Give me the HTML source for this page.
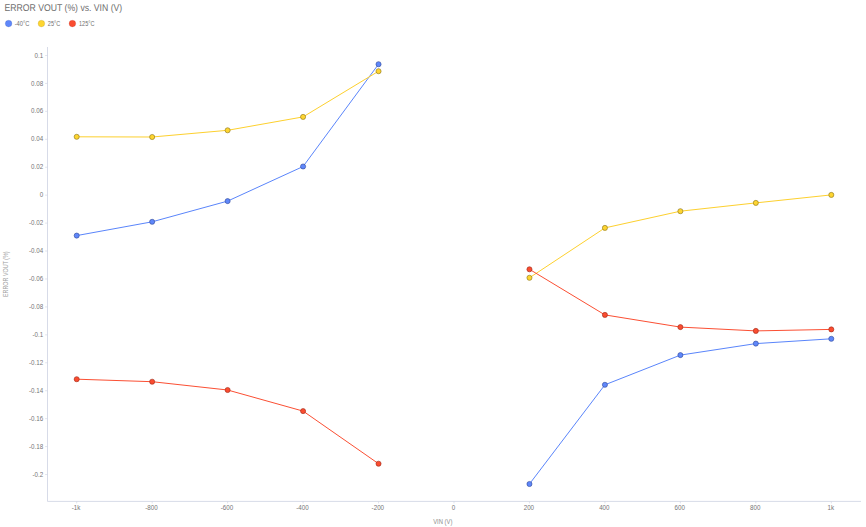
<!DOCTYPE html>
<html><head><meta charset="utf-8"><title>ERROR VOUT (%) vs. VIN (V)</title>
<style>
html,body{margin:0;padding:0;background:#fff;}
body{width:866px;height:527px;overflow:hidden;font-family:"Liberation Sans",sans-serif;}
svg{display:block;}
text{font-family:"Liberation Sans",sans-serif;}
</style></head><body>
<svg width="866" height="527" viewBox="0 0 866 527">
<rect x="0" y="0" width="866" height="527" fill="#ffffff"/>

<text transform="translate(4.6 11.2) rotate(0.03)" font-size="9.8" fill="#6e6e6e" textLength="117.6" lengthAdjust="spacingAndGlyphs">ERROR VOUT (%) vs. VIN (V)</text>
<circle cx="8.6" cy="23.6" r="3.3" fill="#5f87fa" stroke="#2f4796" stroke-opacity="0.45" stroke-width="0.4"/>
<text x="14.7" y="25.9" font-size="7" fill="#707070" textLength="14.8" lengthAdjust="spacingAndGlyphs">-40°C</text>
<circle cx="41.4" cy="23.6" r="3.3" fill="#fed530" stroke="#86701a" stroke-opacity="0.45" stroke-width="0.4"/>
<text x="47.8" y="25.9" font-size="7" fill="#707070" textLength="12.4" lengthAdjust="spacingAndGlyphs">25°C</text>
<circle cx="72.4" cy="23.6" r="3.3" fill="#fa4c30" stroke="#9c2a1a" stroke-opacity="0.45" stroke-width="0.4"/>
<text x="79.0" y="25.9" font-size="7" fill="#707070" textLength="15.5" lengthAdjust="spacingAndGlyphs">125°C</text>
<path d="M47.5 47.0 V501.4 H861.0" fill="none" stroke="#d0d4e4" stroke-width="0.85"/>
<path d="M45.1 55.50 H47.5" stroke="#cfd3e3" stroke-width="0.6"/>
<text transform="translate(43.1 57.60) scale(0.865 1)" font-size="7.2" fill="#757575" text-anchor="end">0.1</text>
<path d="M45.1 83.44 H47.5" stroke="#cfd3e3" stroke-width="0.6"/>
<text transform="translate(43.1 85.53) scale(0.865 1)" font-size="7.2" fill="#757575" text-anchor="end">0.08</text>
<path d="M45.1 111.37 H47.5" stroke="#cfd3e3" stroke-width="0.6"/>
<text transform="translate(43.1 113.47) scale(0.865 1)" font-size="7.2" fill="#757575" text-anchor="end">0.06</text>
<path d="M45.1 139.31 H47.5" stroke="#cfd3e3" stroke-width="0.6"/>
<text transform="translate(43.1 141.41) scale(0.865 1)" font-size="7.2" fill="#757575" text-anchor="end">0.04</text>
<path d="M45.1 167.24 H47.5" stroke="#cfd3e3" stroke-width="0.6"/>
<text transform="translate(43.1 169.34) scale(0.865 1)" font-size="7.2" fill="#757575" text-anchor="end">0.02</text>
<path d="M45.1 195.17 H47.5" stroke="#cfd3e3" stroke-width="0.6"/>
<text transform="translate(43.1 197.27) scale(0.865 1)" font-size="7.2" fill="#757575" text-anchor="end">0</text>
<path d="M45.1 223.11 H47.5" stroke="#cfd3e3" stroke-width="0.6"/>
<text transform="translate(43.1 225.21) scale(0.865 1)" font-size="7.2" fill="#757575" text-anchor="end">-0.02</text>
<path d="M45.1 251.04 H47.5" stroke="#cfd3e3" stroke-width="0.6"/>
<text transform="translate(43.1 253.14) scale(0.865 1)" font-size="7.2" fill="#757575" text-anchor="end">-0.04</text>
<path d="M45.1 278.98 H47.5" stroke="#cfd3e3" stroke-width="0.6"/>
<text transform="translate(43.1 281.08) scale(0.865 1)" font-size="7.2" fill="#757575" text-anchor="end">-0.06</text>
<path d="M45.1 306.91 H47.5" stroke="#cfd3e3" stroke-width="0.6"/>
<text transform="translate(43.1 309.01) scale(0.865 1)" font-size="7.2" fill="#757575" text-anchor="end">-0.08</text>
<path d="M45.1 334.85 H47.5" stroke="#cfd3e3" stroke-width="0.6"/>
<text transform="translate(43.1 336.95) scale(0.865 1)" font-size="7.2" fill="#757575" text-anchor="end">-0.1</text>
<path d="M45.1 362.78 H47.5" stroke="#cfd3e3" stroke-width="0.6"/>
<text transform="translate(43.1 364.88) scale(0.865 1)" font-size="7.2" fill="#757575" text-anchor="end">-0.12</text>
<path d="M45.1 390.72 H47.5" stroke="#cfd3e3" stroke-width="0.6"/>
<text transform="translate(43.1 392.82) scale(0.865 1)" font-size="7.2" fill="#757575" text-anchor="end">-0.14</text>
<path d="M45.1 418.65 H47.5" stroke="#cfd3e3" stroke-width="0.6"/>
<text transform="translate(43.1 420.75) scale(0.865 1)" font-size="7.2" fill="#757575" text-anchor="end">-0.16</text>
<path d="M45.1 446.59 H47.5" stroke="#cfd3e3" stroke-width="0.6"/>
<text transform="translate(43.1 448.69) scale(0.865 1)" font-size="7.2" fill="#757575" text-anchor="end">-0.18</text>
<path d="M45.1 474.52 H47.5" stroke="#cfd3e3" stroke-width="0.6"/>
<text transform="translate(43.1 476.62) scale(0.865 1)" font-size="7.2" fill="#757575" text-anchor="end">-0.2</text>
<path d="M76.70 501.4 V503.4" stroke="#cfd3e3" stroke-width="0.6"/>
<text transform="translate(76.00 510.0) scale(0.865 1)" font-size="7.2" fill="#757575" text-anchor="middle">-1k</text>
<path d="M152.16 501.4 V503.4" stroke="#cfd3e3" stroke-width="0.6"/>
<text transform="translate(151.46 510.0) scale(0.865 1)" font-size="7.2" fill="#757575" text-anchor="middle">-800</text>
<path d="M227.62 501.4 V503.4" stroke="#cfd3e3" stroke-width="0.6"/>
<text transform="translate(226.92 510.0) scale(0.865 1)" font-size="7.2" fill="#757575" text-anchor="middle">-600</text>
<path d="M303.08 501.4 V503.4" stroke="#cfd3e3" stroke-width="0.6"/>
<text transform="translate(302.38 510.0) scale(0.865 1)" font-size="7.2" fill="#757575" text-anchor="middle">-400</text>
<path d="M378.54 501.4 V503.4" stroke="#cfd3e3" stroke-width="0.6"/>
<text transform="translate(377.84 510.0) scale(0.865 1)" font-size="7.2" fill="#757575" text-anchor="middle">-200</text>
<path d="M454.00 501.4 V503.4" stroke="#cfd3e3" stroke-width="0.6"/>
<text transform="translate(453.40 510.0) scale(0.865 1)" font-size="7.2" fill="#757575" text-anchor="middle">0</text>
<path d="M529.46 501.4 V503.4" stroke="#cfd3e3" stroke-width="0.6"/>
<text transform="translate(528.86 510.0) scale(0.865 1)" font-size="7.2" fill="#757575" text-anchor="middle">200</text>
<path d="M604.92 501.4 V503.4" stroke="#cfd3e3" stroke-width="0.6"/>
<text transform="translate(604.32 510.0) scale(0.865 1)" font-size="7.2" fill="#757575" text-anchor="middle">400</text>
<path d="M680.38 501.4 V503.4" stroke="#cfd3e3" stroke-width="0.6"/>
<text transform="translate(679.78 510.0) scale(0.865 1)" font-size="7.2" fill="#757575" text-anchor="middle">600</text>
<path d="M755.84 501.4 V503.4" stroke="#cfd3e3" stroke-width="0.6"/>
<text transform="translate(755.24 510.0) scale(0.865 1)" font-size="7.2" fill="#757575" text-anchor="middle">800</text>
<path d="M831.30 501.4 V503.4" stroke="#cfd3e3" stroke-width="0.6"/>
<text transform="translate(830.70 510.0) scale(0.865 1)" font-size="7.2" fill="#757575" text-anchor="middle">1k</text>
<text x="433.2" y="523.8" font-size="7.2" fill="#8c8c8c" textLength="19.2" lengthAdjust="spacingAndGlyphs">VIN (V)</text>
<text transform="translate(8.2 297.0) rotate(-90)" font-size="7.2" fill="#a0a0a0" textLength="45.6" lengthAdjust="spacingAndGlyphs">ERROR VOUT (%)</text>
<path d="M76.70 235.60 L152.16 221.80 L227.62 201.10 L303.08 166.50 L378.54 64.20" fill="none" stroke="#5a85fb" stroke-width="1.0" stroke-linejoin="round" stroke-linecap="round"/>
<path d="M529.46 484.00 L604.92 384.80 L680.38 355.10 L755.84 343.60 L831.30 338.80" fill="none" stroke="#5a85fb" stroke-width="1.0" stroke-linejoin="round" stroke-linecap="round"/>
<circle cx="76.70" cy="235.60" r="2.55" fill="#5f87fa" stroke="#2f4796" stroke-width="0.6"/>
<circle cx="152.16" cy="221.80" r="2.55" fill="#5f87fa" stroke="#2f4796" stroke-width="0.6"/>
<circle cx="227.62" cy="201.10" r="2.55" fill="#5f87fa" stroke="#2f4796" stroke-width="0.6"/>
<circle cx="303.08" cy="166.50" r="2.55" fill="#5f87fa" stroke="#2f4796" stroke-width="0.6"/>
<circle cx="378.54" cy="64.20" r="2.55" fill="#5f87fa" stroke="#2f4796" stroke-width="0.6"/>
<circle cx="529.46" cy="484.00" r="2.55" fill="#5f87fa" stroke="#2f4796" stroke-width="0.6"/>
<circle cx="604.92" cy="384.80" r="2.55" fill="#5f87fa" stroke="#2f4796" stroke-width="0.6"/>
<circle cx="680.38" cy="355.10" r="2.55" fill="#5f87fa" stroke="#2f4796" stroke-width="0.6"/>
<circle cx="755.84" cy="343.60" r="2.55" fill="#5f87fa" stroke="#2f4796" stroke-width="0.6"/>
<circle cx="831.30" cy="338.80" r="2.55" fill="#5f87fa" stroke="#2f4796" stroke-width="0.6"/>
<path d="M76.70 136.80 L152.16 137.00 L227.62 130.30 L303.08 116.90 L378.54 71.20" fill="none" stroke="#fdd02e" stroke-width="1.0" stroke-linejoin="round" stroke-linecap="round"/>
<path d="M529.46 277.80 L604.92 227.90 L680.38 211.20 L755.84 202.90 L831.30 194.90" fill="none" stroke="#fdd02e" stroke-width="1.0" stroke-linejoin="round" stroke-linecap="round"/>
<circle cx="76.70" cy="136.80" r="2.55" fill="#fed530" stroke="#86701a" stroke-width="0.6"/>
<circle cx="152.16" cy="137.00" r="2.55" fill="#fed530" stroke="#86701a" stroke-width="0.6"/>
<circle cx="227.62" cy="130.30" r="2.55" fill="#fed530" stroke="#86701a" stroke-width="0.6"/>
<circle cx="303.08" cy="116.90" r="2.55" fill="#fed530" stroke="#86701a" stroke-width="0.6"/>
<circle cx="378.54" cy="71.20" r="2.55" fill="#fed530" stroke="#86701a" stroke-width="0.6"/>
<circle cx="529.46" cy="277.80" r="2.55" fill="#fed530" stroke="#86701a" stroke-width="0.6"/>
<circle cx="604.92" cy="227.90" r="2.55" fill="#fed530" stroke="#86701a" stroke-width="0.6"/>
<circle cx="680.38" cy="211.20" r="2.55" fill="#fed530" stroke="#86701a" stroke-width="0.6"/>
<circle cx="755.84" cy="202.90" r="2.55" fill="#fed530" stroke="#86701a" stroke-width="0.6"/>
<circle cx="831.30" cy="194.90" r="2.55" fill="#fed530" stroke="#86701a" stroke-width="0.6"/>
<path d="M76.70 379.20 L152.16 381.70 L227.62 390.00 L303.08 411.10 L378.54 463.70" fill="none" stroke="#fb4f33" stroke-width="1.0" stroke-linejoin="round" stroke-linecap="round"/>
<path d="M529.46 269.30 L604.92 314.90 L680.38 327.10 L755.84 330.90 L831.30 329.40" fill="none" stroke="#fb4f33" stroke-width="1.0" stroke-linejoin="round" stroke-linecap="round"/>
<circle cx="76.70" cy="379.20" r="2.55" fill="#fa4c30" stroke="#9c2a1a" stroke-width="0.6"/>
<circle cx="152.16" cy="381.70" r="2.55" fill="#fa4c30" stroke="#9c2a1a" stroke-width="0.6"/>
<circle cx="227.62" cy="390.00" r="2.55" fill="#fa4c30" stroke="#9c2a1a" stroke-width="0.6"/>
<circle cx="303.08" cy="411.10" r="2.55" fill="#fa4c30" stroke="#9c2a1a" stroke-width="0.6"/>
<circle cx="378.54" cy="463.70" r="2.55" fill="#fa4c30" stroke="#9c2a1a" stroke-width="0.6"/>
<circle cx="529.46" cy="269.30" r="2.55" fill="#fa4c30" stroke="#9c2a1a" stroke-width="0.6"/>
<circle cx="604.92" cy="314.90" r="2.55" fill="#fa4c30" stroke="#9c2a1a" stroke-width="0.6"/>
<circle cx="680.38" cy="327.10" r="2.55" fill="#fa4c30" stroke="#9c2a1a" stroke-width="0.6"/>
<circle cx="755.84" cy="330.90" r="2.55" fill="#fa4c30" stroke="#9c2a1a" stroke-width="0.6"/>
<circle cx="831.30" cy="329.40" r="2.55" fill="#fa4c30" stroke="#9c2a1a" stroke-width="0.6"/>
</svg>
</body></html>
